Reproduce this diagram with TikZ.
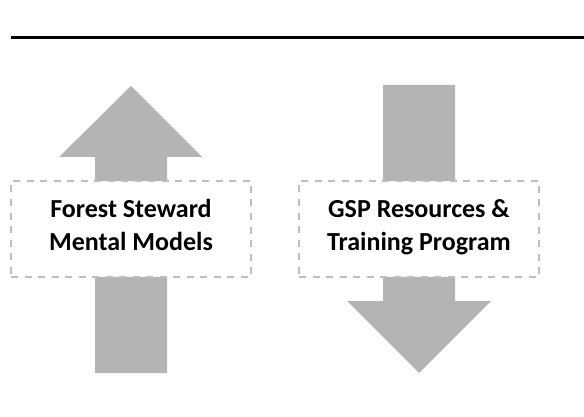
\documentclass[tikz,border=0pt]{standalone}
\usepackage{fontspec}
\setmainfont{Carlito}
\begin{document}
\begin{tikzpicture}[x=1pt,y=-1pt,
  arrowfill/.style={fill=arrowgray,draw=none},
  dashbox/.style={draw=boxgray,fill=white,line width=1.5pt,dash pattern=on 7pt off 6.5pt,minimum width=240pt,minimum height=96pt,inner sep=0pt},
  lbl/.style={anchor=base,inner sep=0pt,font=\fontsize{26}{30}\selectfont\bfseries}]
\definecolor{arrowgray}{RGB}{180,180,180}
\definecolor{boxgray}{RGB}{190,190,190}
\useasboundingbox (0,0) rectangle (584,417);
% top rule
\coordinate (ruleL) at (11,37.5);
\coordinate (ruleR) at (584,37.5);
\draw[line width=2.6pt,black] (ruleL) -- (ruleR);
% up arrow
\fill[arrowfill] (131,86) -- (202,157) -- (167,157) -- (167,373) -- (95,373) -- (95,157) -- (59,157) -- cycle;
% down arrow
\fill[arrowfill] (419,373) -- (491,301) -- (455,301) -- (455,85) -- (383,85) -- (383,301) -- (347,301) -- cycle;
% boxes
\node[dashbox] (boxL) at (131,229) {};
\node[dashbox] (boxR) at (419,229) {};
\node[lbl] (l1) at (131,217) {Forest Steward};
\node[lbl] (l2) at (131,250) {Mental Models};
\node[lbl] (r1) at (419,217) {GSP Resources \&};
\node[lbl] (r2) at (419,250) {Training Program};
\end{tikzpicture}
\end{document}
